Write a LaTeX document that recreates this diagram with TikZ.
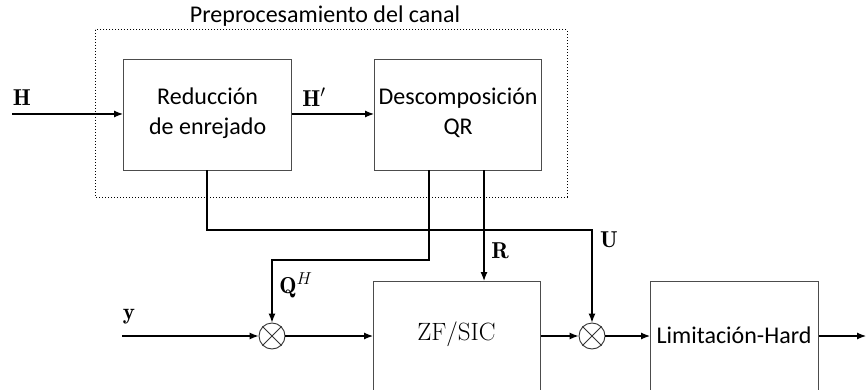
\documentclass[tikz,border=0pt]{standalone}
\usepackage{fontspec}
\newfontfamily\carl{Carlito}
\usetikzlibrary{arrows.meta,calc}
\begin{document}
\begin{tikzpicture}[x=1pt,y=-1pt,
  box/.style={draw=black!70,line width=1.3pt,rectangle,anchor=north west,inner sep=0pt},
  conn/.style={line width=1.2pt,draw=black},
  arr/.style={conn,-{Latex[length=9pt,width=7pt]}},
  mult/.style={draw=black!80,line width=0.9pt,circle,minimum size=26pt,inner sep=0pt},
  lbl/.style={inner sep=0pt,font=\fontsize{23}{27}\selectfont},
  txt/.style={inner sep=0pt,font=\fontsize{24}{30}\selectfont\carl,align=center}]
\clip (0,0) rectangle (866,390);
\useasboundingbox (0,0) rectangle (866,390);
\fill[white] (0,0) rectangle (866,390);
% dotted group
\draw[dotted,line width=1pt] (95,30) rectangle (567,197);
\node[txt] (title) at (325,16) {Preprocesamiento del canal};
% blocks
\node[box,minimum width=168pt,minimum height=111pt] (red) at (123,59) {};
\node[txt] (redt) at ($(red.center)+(0,-2)$) {Reducción\\de enrejado};
\node[box,minimum width=167pt,minimum height=111pt] (qr) at (374,59) {};
\node[txt] (qrt) at ($(qr.center)+(0,-2)$) {Descomposición\\QR};
\node[box,minimum width=167pt,minimum height=115pt] (zf) at (373,281) {};
\node[lbl,font=\fontsize{25}{30}\selectfont] (zft) at (456.5,334) {ZF/SIC};
\node[box,minimum width=168pt,minimum height=115pt] (lim) at (650,281) {};
\node[txt] (limt) at (734,335) {Limitación-Hard};
% multipliers
\node[mult] (c1) at (272,336) {};
\draw[black!80,line width=0.9pt] (c1.north west) -- (c1.south east) (c1.north east) -- (c1.south west);
\node[mult] (c2) at (592,336) {};
\draw[black!80,line width=0.9pt] (c2.north west) -- (c2.south east) (c2.north east) -- (c2.south west);
% coordinates
\coordinate (hin) at (12,114);
\coordinate (yin) at (122,336);
\coordinate (out) at (866,336);
\coordinate (ra) at (207,170);
\coordinate (qa) at (429,170);
\coordinate (qb) at (484,170);
% connectors
\draw[arr] (hin) -- (hin -| red.west);
\draw[arr] (hin -| red.east) -- (hin -| qr.west);
\draw[arr] (ra) -- (207,230) -| (c2.north);
\draw[arr] (qa) -- (429,260) -| (c1.north);
\draw[arr] (qb) -- (qb |- zf.north);
\draw[arr] (yin) -- (c1.west);
\draw[arr] (c1.east) -- (c1.east -| zf.west);
\draw[arr] (c2.west -| zf.east) -- (c2.west);
\draw[arr] (c2.east) -- (c2.east -| lim.west);
\draw[arr] (c2.east -| lim.east) -- (out);
% labels
\node[lbl] (lH) at (22,98) {$\mathbf{H}$};
\node[lbl] (lHp) at (314,97) {$\mathbf{H}'$};
\node[lbl] (lR) at (500,251) {$\mathbf{R}$};
\node[lbl] (lU) at (609,240) {$\mathbf{U}$};
\node[lbl] (lQ) at (296,285) {$\mathbf{Q}^{H}$};
\node[lbl] (ly) at (129,317) {$\mathbf{y}$};
\end{tikzpicture}
\end{document}
